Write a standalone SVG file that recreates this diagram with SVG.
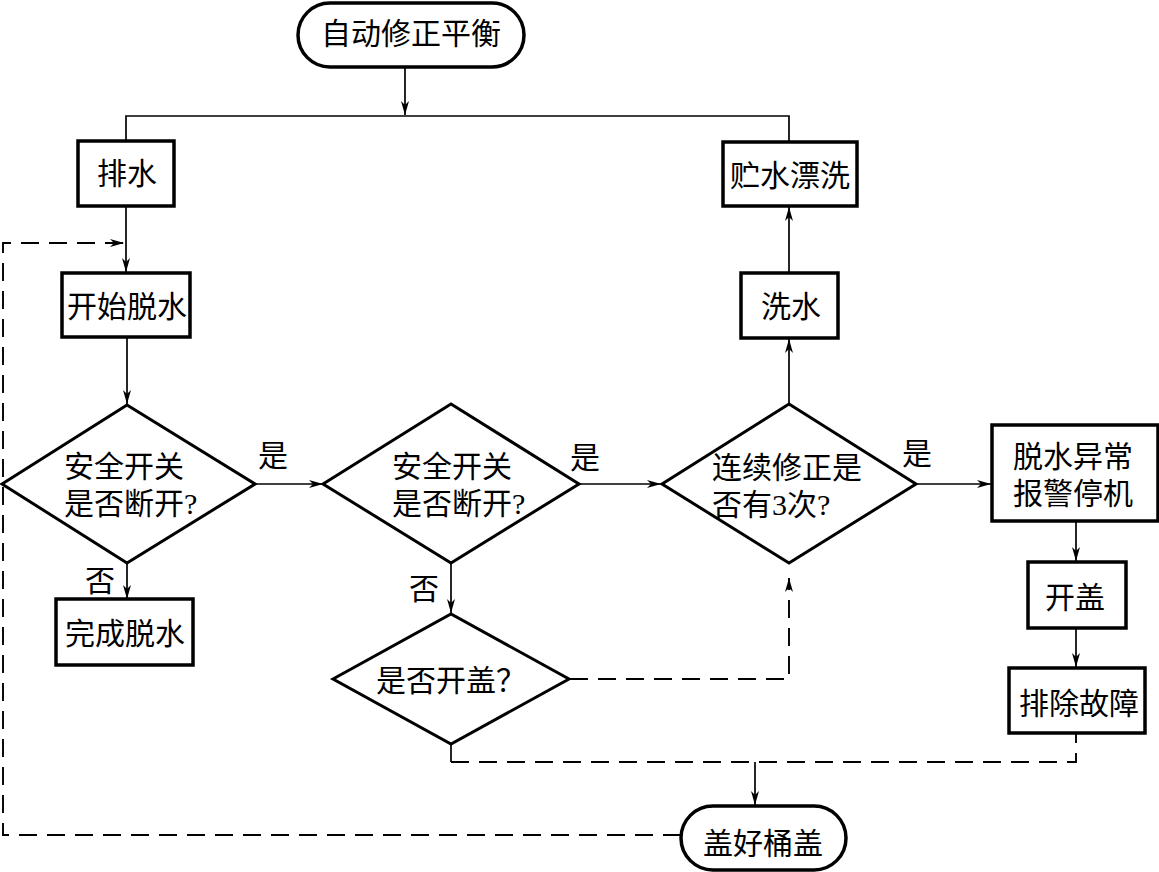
<svg xmlns="http://www.w3.org/2000/svg" width="1159" height="872" viewBox="0 0 1159 872">
<style>
.bg{fill:#fff}
.node{fill:#fff;stroke:#000;stroke-width:3.5}
.dia{fill:#fff;stroke:#000;stroke-width:3}
.t{font-family:"Liberation Serif","Noto Sans CJK SC",serif;font-size:30px;fill:#000}
.m{text-anchor:middle}
.c{fill:none;stroke:#000;stroke-width:1.7}
.d{fill:none;stroke:#000;stroke-width:1.9;stroke-dasharray:18 10}
</style>
<defs>
<marker id="ah" viewBox="0 0 14 8" refX="14" refY="4" markerWidth="14" markerHeight="8" markerUnits="userSpaceOnUse" orient="auto">
<path d="M0,0 L14,4 L0,8 L4,4 Z" fill="#000"/>
</marker>
</defs>
<rect class="bg" x="0" y="0" width="1159" height="872"/>

<g id="connectors">
<line class="c" x1="405" y1="67" x2="405" y2="115" marker-end="url(#ah)"/>
<polyline class="c" points="126,141 126,116 789,116 789,142"/>
<line class="c" x1="126" y1="206" x2="126" y2="272" marker-end="url(#ah)"/>
<polyline class="d" points="681,835 3,835 3,243 124,243" marker-end="url(#ah)"/>
<line class="c" x1="127" y1="337" x2="127" y2="404" marker-end="url(#ah)"/>
<line class="c" x1="127" y1="563" x2="127" y2="599" marker-end="url(#ah)"/>
<line class="c" x1="255" y1="484" x2="323" y2="484" marker-end="url(#ah)"/>
<line class="c" x1="579" y1="484" x2="661" y2="484" marker-end="url(#ah)"/>
<line class="c" x1="916" y1="484" x2="991" y2="484" marker-end="url(#ah)"/>
<line class="c" x1="451" y1="563" x2="451" y2="613" marker-end="url(#ah)"/>
<line class="c" x1="789" y1="404" x2="789" y2="339" marker-end="url(#ah)"/>
<line class="c" x1="789" y1="273" x2="789" y2="207" marker-end="url(#ah)"/>
<polyline class="d" points="570,679 789,679 789,578" marker-end="url(#ah)"/>
<line class="c" x1="1076" y1="521" x2="1076" y2="561" marker-end="url(#ah)"/>
<line class="c" x1="1076" y1="628" x2="1076" y2="667" marker-end="url(#ah)"/>
<polyline class="c" points="451,744 451,762"/>
<polyline class="d" points="451,762 1076,762 1076,733"/>
<line class="c" x1="755" y1="762" x2="755" y2="805" marker-end="url(#ah)"/>
<text class="t m" x="273" y="466">是</text>
<text class="t m" x="585" y="468">是</text>
<text class="t m" x="917" y="464">是</text>
<text class="t m" x="100" y="591">否</text>
<text class="t m" x="424" y="599">否</text>
</g>

<g id="n_start">
<rect class="node" x="298" y="3" width="226" height="64" rx="32"/>
<text class="t m" x="411" y="44">自动修正平衡</text>
</g>
<g id="n_drain">
<rect class="node" x="78" y="141" width="96" height="65"/>
<text class="t m" x="127" y="184">排水</text>
</g>
<g id="n_rinse">
<rect class="node" x="723" y="142" width="134" height="64"/>
<text class="t m" x="790" y="186">贮水漂洗</text>
</g>
<g id="n_spinstart">
<rect class="node" x="62" y="273" width="128" height="64"/>
<text class="t m" x="127" y="317">开始脱水</text>
</g>
<g id="n_wash">
<rect class="node" x="741" y="273" width="97" height="65"/>
<text class="t m" x="791" y="317">洗水</text>
</g>
<g id="n_d1">
<polygon class="dia" points="2,484 127,405 255,484 127,563"/>
<text class="t" x="64" y="477">安全开关</text>
<text class="t" x="64" y="514">是否断开?</text>
</g>
<g id="n_d2">
<polygon class="dia" points="323,484 451,404 579,484 451,563"/>
<text class="t" x="392" y="477">安全开关</text>
<text class="t" x="392" y="514">是否断开?</text>
</g>
<g id="n_d3">
<polygon class="dia" points="662,484 789,404 916,484 789,563"/>
<text class="t" x="712" y="478">连续修正是</text>
<text class="t" x="712" y="515">否有3次?</text>
</g>
<g id="n_alarm">
<rect class="node" x="992" y="425" width="166" height="96"/>
<text class="t" x="1013" y="467">脱水异常</text>
<text class="t" x="1013" y="504">报警停机</text>
</g>
<g id="n_done">
<rect class="node" x="56" y="599" width="137" height="66"/>
<text class="t m" x="125" y="644">完成脱水</text>
</g>
<g id="n_lidq">
<polygon class="dia" points="333,679 451,614 569,679 451,744"/>
<text class="t" x="376" y="691">是否开盖？</text>
</g>
<g id="n_open">
<rect class="node" x="1028" y="562" width="98" height="66"/>
<text class="t m" x="1075" y="608">开盖</text>
</g>
<g id="n_fix">
<rect class="node" x="1009" y="668" width="136" height="65"/>
<text class="t m" x="1079" y="714">排除故障</text>
</g>
<g id="n_close">
<rect class="node" x="681" y="806" width="165" height="64" rx="32"/>
<text class="t m" x="763" y="854">盖好桶盖</text>
</g>
</svg>
